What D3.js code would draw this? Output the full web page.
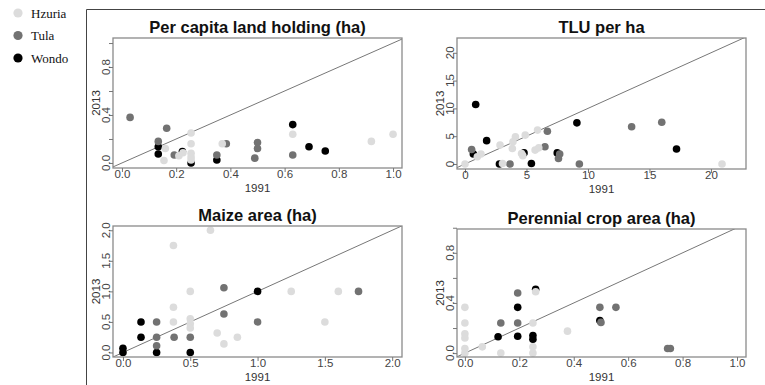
<!DOCTYPE html>
<meta charset="utf-8">
<title>1991 vs 2013</title>
<style>
  body { margin: 0; background: #fff; }
  svg text { font-family: "Liberation Sans", Arial, sans-serif; }
</style>
<script src="https://d3js.org/d3.v7.min.js"></script>
<body>
<div id="chart"></div>
<script>

// villages, drawn in this order (Wondo first, Hzuria on top)
var villages = ["Hzuria", "Tula", "Wondo"];
var villageColors = ["#dcdcdc", "#727272", "#000000"];
var drawOrder = [2, 1, 0];

var titles = ["Per capita land holding (ha)", "TLU per ha", "Maize area (ha)", "Perennial crop area (ha)"];

// [1991, 2013] pairs
var landHz = [[0.16,0.12],[0.155,0.02],[0.21,0.06],[0.225,0.085],[0.255,0.25],[0.255,0.16],[0.255,0.08],[0.255,0.05],[0.255,0.025],[0.37,0.16],[0.63,0.24],[0.92,0.18],[1.0,0.24]];
var landTu = [[0.03,0.38],[0.134,0.18],[0.165,0.29],[0.193,0.067],[0.385,0.16],[0.35,0.067],[0.5,0.17],[0.5,0.12],[0.49,0.04],[0.63,0.067]];
var landWo = [[0.134,0.135],[0.134,0.075],[0.223,0.095],[0.255,0.0],[0.35,0.025],[0.63,0.32],[0.69,0.135],[0.75,0.10]];

var tluHz = [[0,0],[1.3,1.8],[1.0,1.3],[2.85,3.4],[3.05,0.1],[3.85,2.8],[3.9,4.0],[4.1,4.9],[4.6,1.9],[4.7,1.5],[4.9,5.2],[5.7,2.5],[6.0,2.9],[5.9,6.1],[20.9,0]];
var tluTu = [[0.54,2.6],[3.66,0],[6.5,3.1],[6.7,5.9],[7.6,1.0],[7.7,1.8],[9.3,0],[13.55,6.7],[16.0,7.5]];
var tluWo = [[0.68,1.8],[0.87,10.7],[1.76,4.2],[2.8,0],[4.8,2.0],[5.4,0.1],[7.5,2.0],[9.1,7.4],[17.2,2.7]];

var maizeHz = [[0.65,2.0],[0.375,1.75],[0.5,1.0],[1.25,1.0],[1.6,1.0],[0.375,0.74],[0.375,0.5],[0.5,0.55],[0.5,0.47],[0.5,0.4],[1.5,0.5],[0.7,0.32],[0.85,0.25],[0.75,0.14]];
var maizeTu = [[0.75,1.06],[1.75,1.0],[0.75,0.63],[0.25,0.5],[1.0,0.5],[0.25,0.25],[0.25,0.11],[0.38,0.25],[0.5,0.25]];
var maizeWo = [[1.0,1.0],[0.134,0.5],[0.134,0.25],[0.25,0.0],[0.5,0.0],[0.0,0.07],[0.0,0.0]];

var perenHz = [[0,0.365],[0,0.24],[0,0.155],[0,0.12],[0,0.037],[0,0],[0.064,0.05],[0.132,0],[0.25,0.24],[0.25,0.05],[0.25,0.0],[0.26,0.49],[0.377,0.175]];
var perenTu = [[0.132,0.24],[0.194,0.48],[0.194,0.24],[0.496,0.365],[0.5,0.245],[0.555,0.365],[0.745,0.037],[0.755,0.037]];
var perenWo = [[0.122,0.13],[0.194,0.365],[0.194,0.134],[0.25,0.14],[0.25,0.11],[0.26,0.51],[0.496,0.26]];

// ticks and which of them carry a label
var unitTicks = [0, 0.2, 0.4, 0.6, 0.8, 1.0];
var unitYLabels = [0, 0.4, 0.8];
var tluTicks = [0, 5, 10, 15, 20];
var maizeTicks = [0, 0.5, 1.0, 1.5, 2.0];

var panels = [
  {title: titles[0], sets: [landHz, landTu, landWo], box: [113, 38, 289, 130],
   xd: [-0.033, 1.033], yd: [-0.042, 1.042], xt: unitTicks, xl: unitTicks, yt: unitTicks, yl: unitYLabels, fmt: ".1f"},
  {title: titles[1], sets: [tluHz, tluTu, tluWo], box: [457, 38, 289, 131],
   xd: [-0.65, 22.85], yd: [-0.9, 22.66], xt: tluTicks, xl: tluTicks, yt: tluTicks, yl: tluTicks, fmt: "d"},
  {title: titles[2], sets: [maizeHz, maizeTu, maizeWo], box: [113, 226, 289, 131],
   xd: [-0.074, 2.073], yd: [-0.074, 2.07], xt: maizeTicks, xl: maizeTicks, yt: maizeTicks, yl: maizeTicks, fmt: ".1f"},
  {title: titles[3], sets: [perenHz, perenTu, perenWo], box: [457, 229, 289, 128],
   xd: [-0.029, 1.033], yd: [-0.031, 0.99], xt: unitTicks, xl: unitTicks, yt: unitTicks, yl: unitYLabels, fmt: ".1f"}
];

var svg = d3.select("#chart").append("svg")
  .attr("width", 765)
  .attr("height", 385);

// outer frame (left + top)
svg.append("path")
  .attr("d", "M86.5,385V9.5H765")
  .attr("fill", "none")
  .attr("stroke", "#444")
  .attr("stroke-width", 1);

// legend
var leg = svg.append("g");
villages.forEach(function(v, i) {
  leg.append("circle")
    .attr("cx", 18).attr("cy", 13 + i * 22.5).attr("r", 4.6)
    .attr("fill", villageColors[i]);
  leg.append("text")
    .attr("x", 31).attr("y", 17.5 + i * 22.5)
    .style("font-family", "'Liberation Serif', 'Times New Roman', serif")
    .style("font-size", "13px")
    .attr("fill", "#111")
    .text(v);
});

panels.forEach(function(p, k) {
  var L = p.box[0], T = p.box[1], W = p.box[2], H = p.box[3];
  var x = d3.scaleLinear().domain(p.xd).range([L, L + W]);
  var y = d3.scaleLinear().domain(p.yd).range([T + H, T]);
  var fmt = d3.format(p.fmt);
  var g = svg.append("g");

  g.append("clipPath").attr("id", "clip" + k)
    .append("rect").attr("x", L).attr("y", T).attr("width", W).attr("height", H);

  // 1:1 line
  var lo = Math.min(p.xd[0], p.yd[0]), hi = Math.max(p.xd[1], p.yd[1]);
  g.append("line")
    .attr("clip-path", "url(#clip" + k + ")")
    .attr("x1", x(lo)).attr("y1", y(lo))
    .attr("x2", x(hi)).attr("y2", y(hi))
    .attr("stroke", "#777").attr("stroke-width", 1);

  // points
  drawOrder.forEach(function(vi) {
    g.selectAll(null)
      .data(p.sets[vi])
      .enter().append("circle")
      .attr("cx", function(d) { return x(d[0]); })
      .attr("cy", function(d) { return y(d[1]); })
      .attr("r", 3.8)
      .attr("fill", villageColors[vi]);
  });

  // box
  g.append("rect")
    .attr("x", L).attr("y", T).attr("width", W).attr("height", H)
    .attr("fill", "none").attr("stroke", "#8a8a8a").attr("stroke-width", 1.3);

  // x axis
  var xa = g.append("g")
    .attr("transform", "translate(0," + (T + H) + ")")
    .call(d3.axisBottom(x).tickValues(p.xt).tickSize(4).tickSizeOuter(0).tickPadding(-2.5)
      .tickFormat(function(d) { return p.xl.indexOf(d) >= 0 ? fmt(d) : ""; }));
  xa.select(".domain").remove();
  xa.selectAll("line").attr("stroke", "#777");
  xa.selectAll("text").attr("fill", "#444").style("font-size", "11.5px");

  // y axis: ticks from the axis, labels rotated like R
  var ya = g.append("g")
    .attr("transform", "translate(" + L + ",0)")
    .call(d3.axisLeft(y).tickValues(p.yt).tickSize(4).tickSizeOuter(0).tickFormat(""));
  ya.select(".domain").remove();
  ya.selectAll("line").attr("stroke", "#777");
  g.selectAll(null)
    .data(p.yl)
    .enter().append("text")
    .attr("transform", function(d) { return "translate(" + (L - 3) + "," + y(d) + ") rotate(-90)"; })
    .attr("text-anchor", "middle")
    .attr("fill", "#444")
    .style("font-size", "11.5px")
    .text(function(d) { return fmt(d); });

  // axis titles
  g.append("text")
    .attr("x", L + W / 2).attr("y", T + H + 23.5)
    .attr("text-anchor", "middle").attr("fill", "#333")
    .style("font-size", "11.5px").text("1991");
  g.append("text")
    .attr("transform", "translate(" + (L - 13.5) + "," + (T + H / 2) + ") rotate(-90)")
    .attr("text-anchor", "middle").attr("fill", "#333")
    .style("font-size", "11.5px").text("2013");

  // panel title
  g.append("text")
    .attr("x", L + W / 2).attr("y", T - 5)
    .attr("text-anchor", "middle").attr("fill", "#111")
    .style("font-size", "16.5px").style("font-weight", "bold")
    .text(p.title);
});

</script>
</body>
